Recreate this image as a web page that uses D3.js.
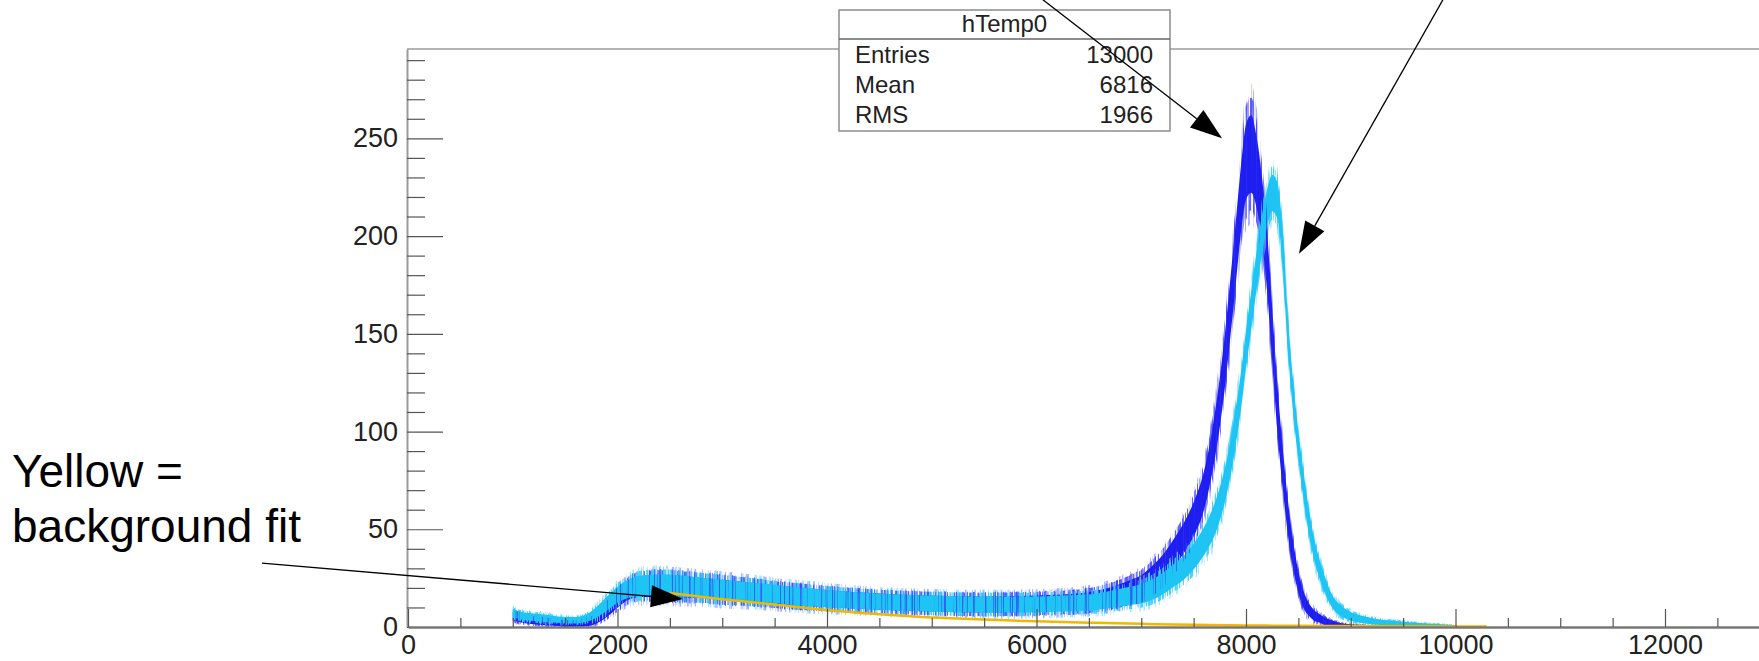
<!DOCTYPE html>
<html><head><meta charset="utf-8">
<script src="https://cdn.jsdelivr.net/npm/d3@7"></script>
<style>
html,body{margin:0;padding:0;background:#fff;}
svg{display:block;}
text{font-family:"Liberation Sans",Arial,Helvetica,sans-serif;}
</style></head><body>
<svg id="c" width="1759" height="661"></svg>
<script>
// ---- data ----
const histX = [1000,1100,1200,1300,1400,1500,1600,1700,1800,1900,2000,2100,2200,2400,2600,2800,3000,3250,3500,3750,4000,4500,5000,5500,6000,6250,6500,6700,6900,7000,7100,7200,7300,7400,7500,7600,7650,7700,7750,7800,7850,7900,7950,8000,8050,8100,8150,8200,8250,8300,8350,8400,8450,8500,8550,8600,8650,8700,8750,8800,8850,8900,9000,9100,9200,9400,9600,9800,10000];
const blueMid = [5.5,4,3,2.5,2,1.5,1.5,2,4,8.5,14,18.5,20.5,21,20.5,20,19,18,16.5,15.5,14.5,13,12,11.5,12,12.5,13.5,15.5,19,21,25,30,37,45,55,70,82,97,115,137,163,190,218,238,242,233,215,188,150,112,82,56,37,23,14,9,6,4.5,3,2,1.5,1,0.6,0.4,0.3,0.2,0.1,0.1,0.1];
const blueSpread = [4,3.5,3,3,2.5,2.5,2.5,3,4,6,7.5,8.5,9.5,10,10,9.5,9.5,9,8.5,8.5,8,7.5,7.5,7.5,7.5,7.5,8,8.5,9.5,10,11,12,13,14,16,18,19,21,23,25,27,29,31,35,36,33,30,28,25,22,19,16,13,10,8,6,5,4,3.5,3,2.5,2,1.5,1.2,1,0.8,0.6,0.5,0.5];
const cyanMid = [7,5.5,5,4.5,4,3.5,3.5,4.5,7.5,12,16.5,19.5,21,21.5,21,20,19,18,17,15.5,14.5,13,12,11.5,11.5,12,12.5,14,16,17,19,22,26,30,36,44,49,55,63,73,86,102,120,142,162,182,200,214,222,218,194,150,118,93,72,54,40,30,22,15.5,11,8.5,5.5,4,3,1.8,1.2,0.8,0.3];
const cyanSpread = [4,3.5,3.5,3.5,3,3,3,3.5,5,6.5,7.5,8.5,9.5,10,10,9.5,9.5,9,8.5,8.5,8,7.5,7.5,7.5,7.5,7.5,7.5,8,8.5,9,9.5,10,10.5,11,12,13,14,15,15.5,16,16.5,17,17.5,18,18,18,18,17.5,17,17,17,16,15,14,13,12,10,9,8,6.5,5.5,5,4,3.5,3,2.5,2,1.5,1];
const fitX = [2500,3000,3500,4000,4500,5000,5500,6000,6500,7000,7500,8000,8500,9000,9500,10000,10300];
const fitY = [17.4,14.2,11.5,8.7,6.5,4.9,3.8,2.9,2.2,1.6,1.1,0.8,0.6,0.45,0.35,0.3,0.25];
const xMajorTicks = [0,2000,4000,6000,8000,10000,12000];
const yMajorTicks = [0,50,100,150,200,250];
const statTitle = "hTemp0";
const statLabels = ["Entries","Mean","RMS"];
const statValues = ["13000","6816","1966"];
const noteLines = ["Yellow =","background fit"];
const arrowFrom = [[5938,326],[9881,321],[-1394,32.7]];
const arrowTo   = [[7771,250],[8506,191],[2625,14.3]];

// ---- layout ----
const svg = d3.select("#c");
const L = 408, T = 49, B = 627, R = 1769.75;
const x = d3.scaleLinear([0,13000],[L,R]);
const y = d3.scaleLinear([0,295.7],[B,T]);

svg.append("rect").attr("width",1759).attr("height",661).attr("fill","#fff");
const defs = svg.append("defs");
defs.append("clipPath").attr("id","pc").append("rect")
  .attr("x",L).attr("y",T).attr("width",R-L).attr("height",B-T);

// streak texture masks (style only: give the bands a spiky histogram look)
function streakMask(id, seed, fx, thr){
  const f = defs.append("filter").attr("id","f"+id)
    .attr("filterUnits","userSpaceOnUse").attr("x",L).attr("y",T).attr("width",R-L).attr("height",B-T)
    .attr("color-interpolation-filters","sRGB");
  f.append("feTurbulence").attr("type","fractalNoise").attr("baseFrequency",`${fx} 0.006`)
    .attr("numOctaves",1).attr("seed",seed).attr("result","n");
  const a = 8, b = -8*thr;
  f.append("feColorMatrix").attr("in","n").attr("type","matrix")
    .attr("values",`${a} 0 0 0 ${b} ${a} 0 0 0 ${b} ${a} 0 0 0 ${b} 0 0 0 0 1`);
  const m = defs.append("mask").attr("id",id).attr("maskUnits","userSpaceOnUse")
    .attr("x",L).attr("y",T).attr("width",R-L).attr("height",B-T);
  m.append("rect").attr("x",L).attr("y",T).attr("width",R-L).attr("height",B-T)
    .attr("fill","#fff").attr("filter",`url(#f${id})`);
}
streakMask("mA",3,0.75,0.56);
streakMask("mB",11,0.8,0.46);
streakMask("mC",23,0.75,0.56);
streakMask("mD",37,0.8,0.46);
streakMask("mE",51,0.9,0.57);

// frame top
svg.append("line").attr("x1",L-1).attr("x2",1759).attr("y1",T).attr("y2",T)
  .attr("stroke","#b4b4b4").attr("stroke-width",2);

// histograms
const gh = svg.append("g").attr("clip-path","url(#pc)");
function band(mid, spr, k){
  return d3.area()
    .x((d,i)=>x(histX[i]))
    .y0((d,i)=>y(Math.max(0, mid[i]-k*spr[i])))
    .y1((d,i)=>y(mid[i]+k*spr[i]))
    .curve(d3.curveMonotoneX)(histX);
}
function layer(mid, spr, k, fill, op, mask){
  const p = gh.append("path").attr("d",band(mid,spr,k)).attr("fill",fill).attr("opacity",op);
  if (mask) p.attr("mask",`url(#${mask})`);
}
layer(blueMid,blueSpread,1.0,"#7a7aff",0.6,"mA");
layer(blueMid,blueSpread,0.8,"#4444ff",0.85,"mB");
layer(blueMid,blueSpread,0.55,"#1e1ef0",1,null);
layer(cyanMid,cyanSpread,1.0,"#8adfff",0.75,"mC");
layer(cyanMid,cyanSpread,0.8,"#3ccdfc",0.9,"mD");
layer(cyanMid,cyanSpread,0.55,"#1ec4f4",1,null);
layer(blueMid,blueSpread,0.85,"#3333ee",0.65,"mE");

// fit line
gh.append("path")
  .attr("d", d3.line().x((d,i)=>x(fitX[i])).y((d,i)=>y(fitY[i])).curve(d3.curveMonotoneX)(fitX))
  .attr("fill","none").attr("stroke","#f0b800").attr("stroke-width",2.5);

// axes
const fs = 27, fmt = d3.format("d");
const yAxis = svg.append("g").attr("transform",`translate(${L-1},0)`)
  .call(d3.axisLeft(y).tickValues(yMajorTicks).tickFormat(fmt).tickSize(-36).tickSizeOuter(0).tickPadding(9));
const yMinor = svg.append("g").attr("transform",`translate(${L-1},0)`)
  .call(d3.axisLeft(y).tickValues(d3.range(10,291,10).filter(v=>v%50)).tickSize(-18).tickSizeOuter(0).tickFormat(""));
const xAxis = svg.append("g").attr("transform",`translate(0,${B})`)
  .call(d3.axisBottom(x).tickValues(xMajorTicks).tickFormat(fmt).tickSize(-18).tickSizeOuter(0).tickPadding(8));
const xMinor = svg.append("g").attr("transform",`translate(0,${B})`)
  .call(d3.axisBottom(x).tickValues(d3.range(500,13000,500).filter(v=>v%2000)).tickSize(-9).tickSizeOuter(0).tickFormat(""));
[yAxis,yMinor,xAxis,xMinor].forEach(g=>{
  g.selectAll(".tick line").attr("stroke","#555").attr("stroke-width",1.2);
  g.selectAll("text").attr("font-size",fs).attr("fill","#222")
    .attr("font-family",'"Liberation Sans",Arial,sans-serif');
});
yAxis.select(".domain").attr("stroke","#9a9a9a").attr("stroke-width",2);
yMinor.select(".domain").remove();
xMinor.select(".domain").remove();
xAxis.select(".domain").attr("stroke","#777").attr("stroke-width",2.6);

// stats box
const bx = 839, by = 10, bw = 331, bh = 121;
svg.append("rect").attr("x",bx).attr("y",by).attr("width",bw).attr("height",bh)
  .attr("fill","#fff").attr("stroke","#8c8c8c").attr("stroke-width",1.5);
svg.append("line").attr("x1",bx).attr("x2",bx+bw).attr("y1",39).attr("y2",39)
  .attr("stroke","#666").attr("stroke-width",1.5);
svg.append("text").attr("x",bx+bw/2).attr("y",31.5).attr("text-anchor","middle")
  .attr("font-size",24).attr("fill","#222").text(statTitle);
statLabels.forEach((s,i)=>{
  svg.append("text").attr("x",855).attr("y",63+30*i).attr("font-size",24).attr("fill","#222").text(s);
  svg.append("text").attr("x",1153).attr("y",63+30*i).attr("text-anchor","end")
    .attr("font-size",24).attr("fill","#222").text(statValues[i]);
});

// annotations
noteLines.forEach((s,i)=>{
  svg.append("text").attr("x",12).attr("y",487+54.5*i).attr("font-size",46).attr("fill","#000").text(s);
});
arrowFrom.forEach((f,i)=>{
  const x0=x(f[0]), y0=y(f[1]), x1=x(arrowTo[i][0]), y1=y(arrowTo[i][1]);
  const dx=x1-x0, dy=y1-y0, len=Math.hypot(dx,dy), ux=dx/len, uy=dy/len;
  const hl=32, hw=11;
  const bxp=x1-ux*hl, byp=y1-uy*hl;
  svg.append("line").attr("x1",x0).attr("y1",y0).attr("x2",bxp).attr("y2",byp)
    .attr("stroke","#000").attr("stroke-width",1.3);
  svg.append("path").attr("d",`M${x1},${y1}L${bxp-uy*hw},${byp+ux*hw}L${bxp+uy*hw},${byp-ux*hw}Z`)
    .attr("fill","#000");
});
</script></body></html>
